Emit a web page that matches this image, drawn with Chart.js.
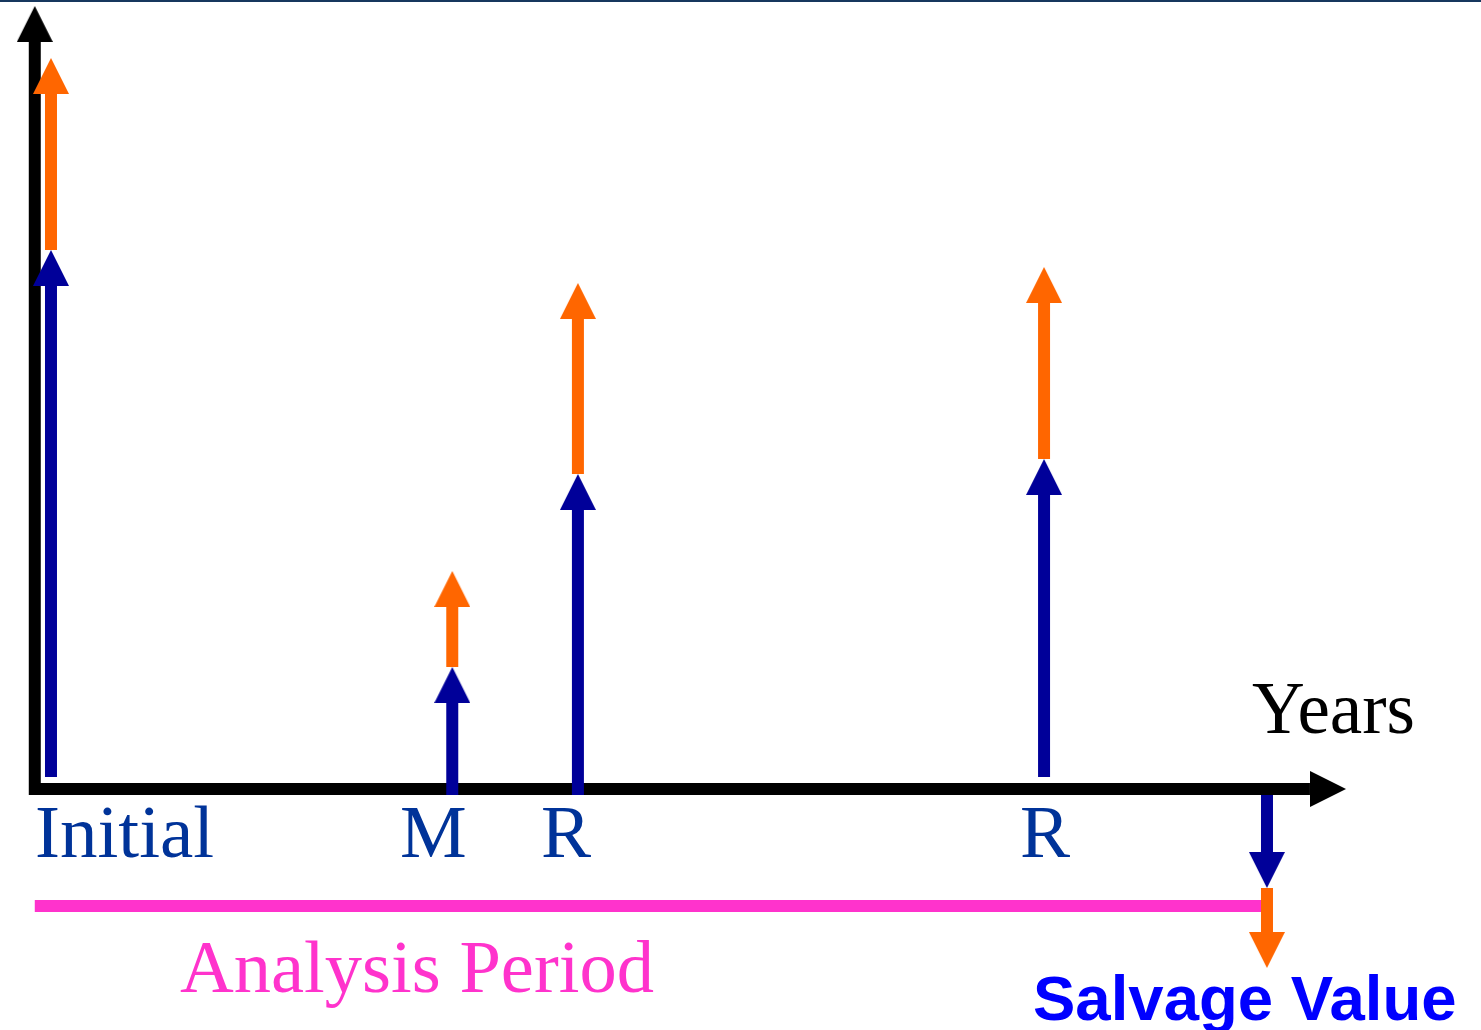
<!DOCTYPE html>
<html>
<head>
<meta charset="utf-8">
<script src="https://cdn.jsdelivr.net/npm/chart.js@4.4.1/dist/chart.umd.min.js"></script>
<style>
  body { margin: 0; background: #fff; }
  #wrap { position: relative; width: 1481px; height: 1030px; }
</style>
</head>
<body>
<div id="wrap"><canvas id="cashFlowChart" width="1481" height="1030"></canvas></div>
<script>
// cash flow data (years on x, cost on y)
const categories = ["Initial", "M", "R", "R", "Salvage"];
const years = [0, 9.9, 13, 24.5, 30];
const baseCost = [53.9, 12.2, 31.5, 33.0, -9.9];
const escalation = [19.2, 9.6, 19.1, 19.2, -8.0];
const analysisPeriod = 30;

// styles
const BLUE = "#000099";
const ORANGE = "#FF6600";
const PINK = "#FF33CC";
const HEAD_Y = 3.6;   // arrowhead length in value units
const HEAD_X = 0.89;  // arrowhead length in years
const blueFoot = [1.2, -0.6, -0.6, 1.2, -0.6];
const axis = { x: -0.4, xStart: -0.54, xEnd: 31.95, yStart: -0.6, yEnd: 78.3 };

function headImage(color) {
    const c = document.createElement("canvas");
    c.width = 36;
    c.height = 72;
    const g = c.getContext("2d");
    g.fillStyle = color;
    g.beginPath();
    g.moveTo(18, 36);
    g.lineTo(36, 72);
    g.lineTo(0, 72);
    g.closePath();
    g.fill();
    return c;
}

const heads = { black: headImage("#000000"), blue: headImage(BLUE), orange: headImage(ORANGE) };

function shaft(points, color, order) {
    return {
        type: "line",
        data: points,
        borderColor: color,
        borderWidth: 12,
        borderCapStyle: "butt",
        pointRadius: 0,
        order: order,
    };
}

const datasets = [];

// analysis period bar
datasets.push(shaft([{ x: axis.x, y: -11.7 }, { x: analysisPeriod, y: -11.7 }], PINK, 50));

// axes
datasets.push(shaft([{ x: axis.x, y: axis.yStart }, { x: axis.x, y: axis.yEnd - HEAD_Y }], "#000", 40));
datasets.push(shaft([{ x: axis.xStart, y: 0 }, { x: axis.xEnd - HEAD_X, y: 0 }], "#000", 40));

// cash flow shafts
years.forEach((yr, i) => {
    const dir = baseCost[i] >= 0 ? 1 : -1;
    const top = baseCost[i] + escalation[i];
    datasets.push(shaft([{ x: yr, y: baseCost[i] }, { x: yr, y: top - dir * HEAD_Y }], ORANGE, 30));
    datasets.push(shaft([{ x: yr, y: blueFoot[i] }, { x: yr, y: baseCost[i] - dir * HEAD_Y }], BLUE, 20));
});

// arrow heads
datasets.push({
    type: "scatter",
    data: [{ x: axis.x, y: axis.yEnd }, { x: axis.xEnd, y: 0 }],
    pointStyle: heads.black,
    rotation: [0, 90],
    pointRadius: 5,
    order: 10,
});
datasets.push({
    type: "scatter",
    data: years.map((yr, i) => ({ x: yr, y: baseCost[i] })),
    pointStyle: heads.blue,
    rotation: baseCost.map((v) => (v >= 0 ? 0 : 180)),
    pointRadius: 5,
    order: 5,
});
datasets.push({
    type: "scatter",
    data: years.map((yr, i) => ({ x: yr, y: baseCost[i] + escalation[i] })),
    pointStyle: heads.orange,
    rotation: baseCost.map((v) => (v >= 0 ? 0 : 180)),
    pointRadius: 5,
    order: 5,
});

// text labels
const labelPlugin = {
    id: "labels",
    afterDraw(chart) {
        const ctx = chart.ctx;
        ctx.save();
        ctx.fillStyle = "#17375E";
        ctx.fillRect(0, 0, chart.width, 2);
        ctx.textBaseline = "alphabetic";
        ctx.textAlign = "left";
        ctx.font = "75px 'Liberation Serif'";
        ctx.fillStyle = "#003399";
        const labelX = [35, 400, 541, 1020];
        categories.slice(0, 4).forEach((c, i) => ctx.fillText(c, labelX[i], 857));
        ctx.font = "73px 'Liberation Serif'";
        ctx.fillStyle = "#000";
        ctx.fillText("Years", 1252, 733);
        ctx.font = "74.5px 'Liberation Serif'";
        ctx.fillStyle = PINK;
        ctx.fillText("Analysis Period", 180, 992);
        ctx.font = "bold 63.5px 'Liberation Sans'";
        ctx.fillStyle = "#0000FF";
        ctx.fillText("Salvage Value", 1033, 1020);
        ctx.restore();
    },
};

new Chart(document.getElementById("cashFlowChart"), {
    type: "scatter",
    data: { datasets: datasets },
    options: {
        responsive: false,
        animation: false,
        layout: { padding: 0, autoPadding: false },
        plugins: { legend: { display: false }, tooltip: { enabled: false } },
        scales: {
            x: { type: "linear", min: -1.258, max: 35.28, display: false },
            y: { type: "linear", min: -24.1, max: 78.9, display: false },
        },
    },
    plugins: [labelPlugin],
});
</script>
</body>
</html>
